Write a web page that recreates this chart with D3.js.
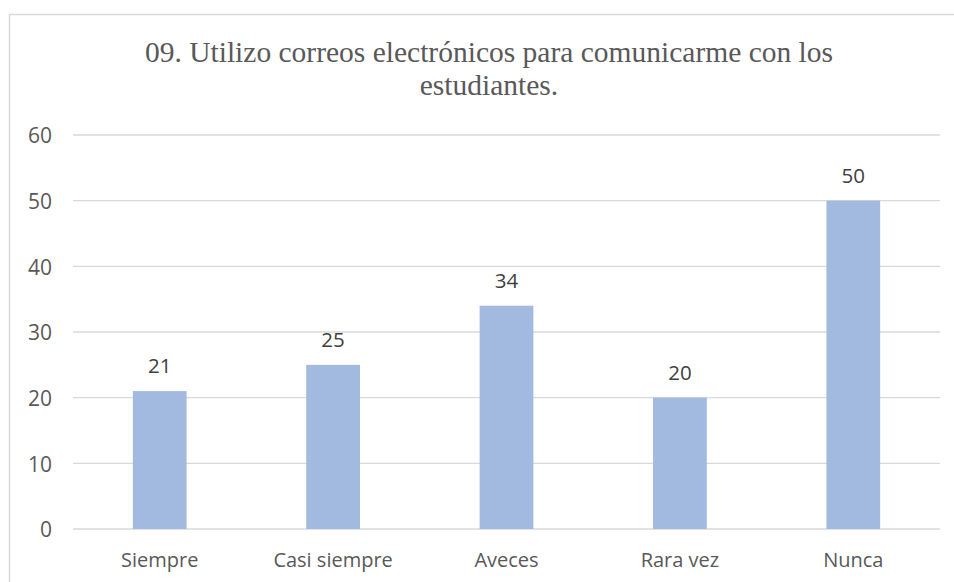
<!DOCTYPE html>
<html>
<head>
<meta charset="utf-8">
<script src="https://cdn.jsdelivr.net/npm/d3@7"></script>
<style>
  body { margin: 0; background: #fff; }
</style>
</head>
<body>
<svg id="chart" width="954" height="582"></svg>
<script>
// chart data
const categories = ["Siempre", "Casi siempre", "Aveces", "Rara vez", "Nunca"];
const values = [21, 25, 34, 20, 50];
const yTicks = [0, 10, 20, 30, 40, 50, 60];
const titleLines = ["09. Utilizo correos electrónicos para comunicarme con los", "estudiantes."];

var svg = d3.select("#chart");
var margin = { top: 135, left: 73, right: 14, bottom: 53 };
var width = 954 - margin.left - margin.right,
  height = 582 - margin.top - margin.bottom;

// outer chart border (runs off the right / bottom edge)
svg.append("rect")
  .attr("x", 9.5).attr("y", 14.5)
  .attr("width", 1000).attr("height", 1000)
  .attr("fill", "none")
  .attr("stroke", "#d9d9d9")
  .attr("stroke-width", 1.5);

// title
svg.append("text")
  .attr("x", 489)
  .attr("y", 62)
  .attr("text-anchor", "middle")
  .style("font-family", "'Liberation Serif', 'Times New Roman', serif")
  .style("font-size", "29.5px")
  .attr("fill", "#595959")
  .selectAll("tspan")
  .data(titleLines)
  .enter().append("tspan")
  .attr("x", 489)
  .attr("dy", (d, i) => i === 0 ? 0 : 33)
  .text(d => d);

var g = svg.append("g")
  .attr("transform", "translate(" + margin.left + "," + margin.top + ")");

var x = d3.scaleBand()
  .domain(categories)
  .range([0, width])
  .paddingInner(0.69)
  .paddingOuter(0.345);

var y = d3.scaleLinear()
  .domain([0, 60])
  .range([height, 0]);

var font = "'Open Sans', 'Noto Sans', sans-serif";

// gridlines
g.selectAll(".grid")
  .data(yTicks)
  .enter().append("line")
  .attr("x1", 0).attr("x2", width)
  .attr("y1", d => y(d)).attr("y2", d => y(d))
  .attr("stroke", "#d9d9d9")
  .attr("stroke-width", 1.3);

// y axis labels
var yAxis = g.append("g")
  .call(d3.axisLeft(y).tickValues(yTicks).tickSize(0).tickPadding(21));
yAxis.select(".domain").remove();
yAxis.selectAll("text")
  .attr("dy", "0.38em")
  .style("font-family", font)
  .style("font-size", "21px")
  .attr("fill", "#595959");

// bars
g.selectAll(".bar")
  .data(values)
  .enter().append("rect")
  .attr("x", (d, i) => x(categories[i]))
  .attr("y", d => y(d))
  .attr("width", x.bandwidth())
  .attr("height", d => height - y(d))
  .attr("fill", "#a2b9e0");

// value labels
g.selectAll(".label")
  .data(values)
  .enter().append("text")
  .attr("x", (d, i) => x(categories[i]) + x.bandwidth() / 2)
  .attr("y", d => y(d) - 18)
  .attr("text-anchor", "middle")
  .style("font-family", font)
  .style("font-size", "20.5px")
  .attr("fill", "#404040")
  .text(d => d);

// x axis labels
var xAxis = g.append("g")
  .attr("transform", "translate(0," + height + ")")
  .call(d3.axisBottom(x).tickSize(0).tickPadding(24));
xAxis.select(".domain").remove();
xAxis.selectAll("text")
  .style("font-family", font)
  .style("font-size", "20px")
  .attr("fill", "#595959");
</script>
</body>
</html>
